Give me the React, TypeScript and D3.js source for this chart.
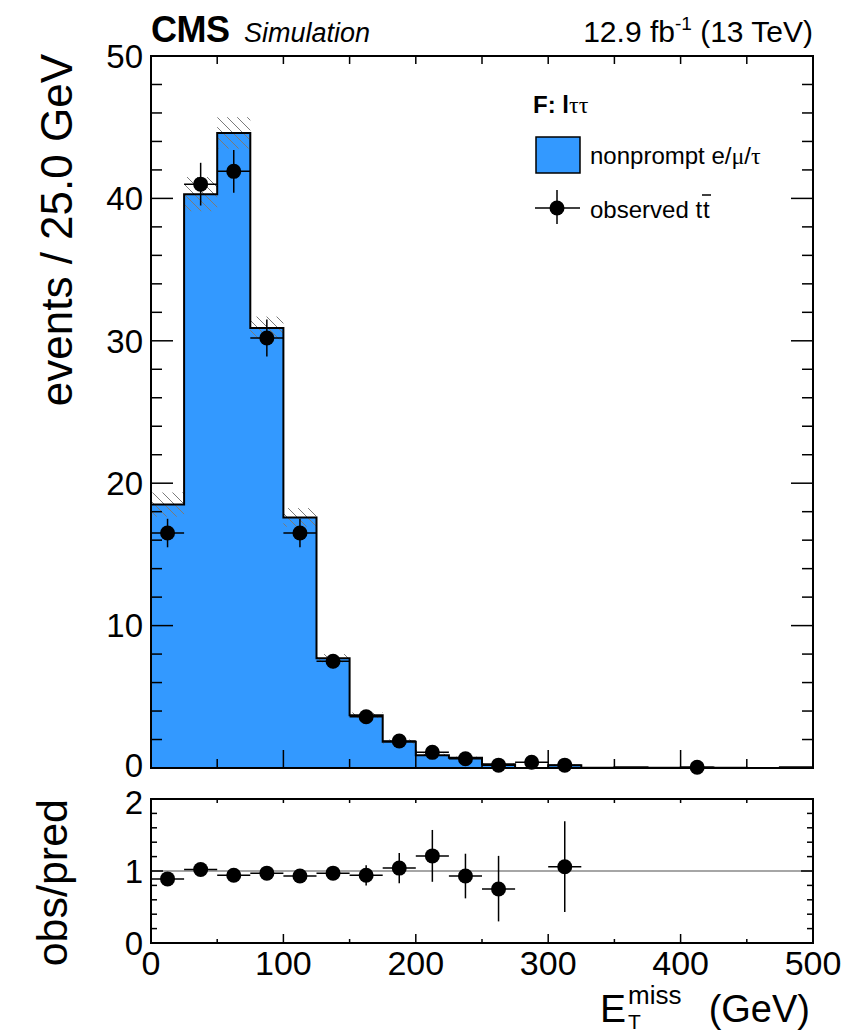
import React from 'react';
import * as d3 from 'd3';

// bin lower edges (GeV), 25 GeV wide
const binLow = [0, 25, 50, 75, 100, 125, 150, 175, 200, 225, 250, 275, 300, 325, 350, 375, 400, 425, 450, 475];
const binWidth = 25;

// nonprompt prediction and its uncertainty
const predicted = [18.5, 40.3, 44.6, 30.9, 17.6, 7.7, 3.7, 1.85, 0.9, 0.72, 0.27, 0.0, 0.19, 0.02, 0.05, 0.02, 0.03, 0.01, 0.0, 0.05];
const predErr = [0.85, 1.2, 1.1, 0.8, 0.65, 0.3, 0.2, 0.15, 0.1, 0.08, 0.05, 0, 0.05, 0, 0, 0, 0, 0, 0, 0];

// observed ttbar
const observed = [16.5, 41.0, 41.9, 30.2, 16.5, 7.5, 3.6, 1.9, 1.1, 0.65, 0.2, 0.4, 0.2, null, null, null, 0.05, null, null, null];
const obsErr = [1.0, 1.5, 1.5, 1.3, 1.0, 0.5, 0.35, 0.3, 0.25, 0.2, 0.15, 0.2, 0.15, 0, 0, 0, 0.05, 0, 0, 0];

// obs/pred
const ratio = [0.89, 1.02, 0.94, 0.97, 0.93, 0.97, 0.94, 1.04, 1.21, 0.93, 0.75, null, 1.06, null, null, null, null, null, null, null];
const ratioErrLo = [0.04, 0.04, 0.05, 0.05, 0.06, 0.07, 0.14, 0.21, 0.36, 0.31, 0.45, 0, 0.63, 0, 0, 0, 0, 0, 0, 0];
const ratioErrHi = [0.04, 0.04, 0.05, 0.05, 0.06, 0.07, 0.14, 0.21, 0.36, 0.31, 0.46, 0, 0.63, 0, 0, 0, 0, 0, 0, 0];

const xTickLabels = ['0', '100', '200', '300', '400', '500'];
const yTickLabels = ['0', '10', '20', '30', '40', '50'];
const rTickLabels = ['0', '1', '2'];

const FONT = 'Liberation Sans, Arial, Helvetica, sans-serif';
const SERIF = 'Liberation Serif, Times New Roman, serif';
const BLUE = '#3399ff';

const App = () => {
  const left = 151, right = 813;
  const top = 56, bottom = 768;
  const rTop = 799, rBottom = 943;

  const x = d3.scaleLinear().domain([0, 500]).range([left, right]);
  const y = d3.scaleLinear().domain([0, 50]).range([bottom, top]);
  const yr = d3.scaleLinear().domain([0, 2]).range([rBottom, rTop]);

  const stepData = binLow.map((b, i) => [b, predicted[i]] as [number, number]);
  stepData.push([500, predicted[predicted.length - 1]]);

  const area = d3.area<[number, number]>()
    .x(d => x(d[0])).y0(y(0)).y1(d => y(d[1]))
    .curve(d3.curveStepAfter);
  const line = d3.line<[number, number]>()
    .x(d => x(d[0])).y(d => y(d[1]))
    .curve(d3.curveStepAfter);

  const vTicks = (xPos: number, scale: any, vals: number[], len: number, dir: number, key: string) =>
    vals.map((v, i) => (
      <line key={key + i} x1={xPos} x2={xPos + dir * len} y1={scale(v)} y2={scale(v)} stroke="#000" strokeWidth={1.5} />
    ));
  const hTicks = (yPos: number, vals: number[], len: number, dir: number, key: string) =>
    vals.map((v, i) => (
      <line key={key + i} x1={x(v)} x2={x(v)} y1={yPos} y2={yPos + dir * len} stroke="#000" strokeWidth={1.5} />
    ));

  const yMajor = d3.range(0, 51, 10);
  const yMinor = d3.range(0, 51, 2).filter(v => v % 10 !== 0);
  const xMajor = d3.range(0, 501, 100);
  const xMinor = d3.range(50, 500, 100);
  const xAll = d3.range(50, 500, 50);
  const rMajor = [0, 1, 2];
  const rMinor = d3.range(0.2, 2, 0.2).filter(v => Math.abs(v - 1) > 0.01);

  return (
    <svg width={864} height={1036} style={{ position: 'absolute', left: 0, top: 0, background: '#fff' }} fontFamily={FONT}>
      <defs>
        <pattern id="hatch" patternUnits="userSpaceOnUse" width={10} height={10}>
          <path d="M0,0 L10,10 M-2,8 L2,12 M8,-2 L12,2" stroke="#7a7a7a" strokeWidth={1} />
        </pattern>
      </defs>

      {/* header */}
      <text x={151} y={42} fontSize={36} fontWeight="bold" letterSpacing={-0.5}>CMS</text>
      <text x={244} y={42} fontSize={27} fontStyle="italic">Simulation</text>
      <text x={813} y={42} fontSize={30} textAnchor="end">
        <tspan>12.9 fb</tspan>
        <tspan dy={-12} fontSize={19}>-1</tspan>
        <tspan dy={12}> (13 TeV)</tspan>
      </text>

      {/* upper panel: histogram */}
      <path d={area(stepData) ?? ''} fill={BLUE} />
      {binLow.map((b, i) => predErr[i] > 0 ? (
        <rect key={'h' + i} x={x(b)} width={x(b + binWidth) - x(b)}
          y={y(predicted[i] + predErr[i])} height={y(Math.max(0, predicted[i] - predErr[i])) - y(predicted[i] + predErr[i])}
          fill="url(#hatch)" />
      ) : null)}
      <path d={line(stepData) ?? ''} fill="none" stroke="#000" strokeWidth={2} />

      {/* observed points */}
      {binLow.map((b, i) => {
        const v = observed[i];
        if (v === null) return null;
        const cx = x(b + binWidth / 2);
        return (
          <g key={'o' + i}>
            <line x1={x(b)} x2={x(b + binWidth)} y1={y(v)} y2={y(v)} stroke="#000" strokeWidth={1.5} />
            <line x1={cx} x2={cx} y1={y(v + obsErr[i])} y2={y(Math.max(0, v - obsErr[i]))} stroke="#000" strokeWidth={1.5} />
            <circle cx={cx} cy={y(v)} r={7.5} fill="#000" />
          </g>
        );
      })}

      {/* upper frame and ticks */}
      <rect x={left} y={top} width={right - left} height={bottom - top} fill="none" stroke="#000" strokeWidth={2} />
      {vTicks(left, y, yMajor, 22, 1, 'yl')}
      {vTicks(left, y, yMinor, 11, 1, 'yln')}
      {vTicks(right, y, yMajor, 22, -1, 'yr')}
      {vTicks(right, y, yMinor, 11, -1, 'yrn')}
      {hTicks(bottom, xMajor, 18, -1, 'xb')}
      {hTicks(bottom, xMinor, 9, -1, 'xbn')}
      {hTicks(top, xAll, 8, 1, 'xt')}
      {yTickLabels.map((t, i) => (
        <text key={'yt' + i} x={143} y={y(yMajor[i]) - (i === 0 ? 3 : 0)} dy="0.36em" fontSize={33} textAnchor="end">{t}</text>
      ))}
      <text transform={`translate(72, 54) rotate(-90)`} fontSize={44} textAnchor="end">events / 25.0 GeV</text>

      {/* legend */}
      <text x={533} y={113} fontSize={24} fontWeight="bold">
        <tspan>F: l</tspan>
        <tspan fontFamily={SERIF} fontWeight="normal">ττ</tspan>
      </text>
      <rect x={536} y={137} width={44} height={36} fill={BLUE} stroke="#000" strokeWidth={1.5} />
      <text x={590} y={164} fontSize={24}>
        <tspan>nonprompt e/</tspan>
        <tspan fontFamily={SERIF}>μ</tspan>
        <tspan>/</tspan>
        <tspan fontFamily={SERIF}>τ</tspan>
      </text>
      <line x1={535} x2={580} y1={208} y2={208} stroke="#000" strokeWidth={1.5} />
      <line x1={557} x2={557} y1={190} y2={224} stroke="#000" strokeWidth={1.5} />
      <circle cx={557} cy={208} r={7.5} fill="#000" />
      <text x={590} y={218} fontSize={24}>observed t</text>
      <text x={703} y={218} fontSize={24}>t</text>
      <line x1={702} x2={711} y1={195} y2={195} stroke="#000" strokeWidth={1.5} />

      {/* ratio panel */}
      <line x1={left} x2={right} y1={yr(1)} y2={yr(1)} stroke="#888" strokeWidth={1.5} />
      {binLow.map((b, i) => {
        const v = ratio[i];
        if (v === null) return null;
        const cx = x(b + binWidth / 2);
        return (
          <g key={'r' + i}>
            <line x1={x(b)} x2={x(b + binWidth)} y1={yr(v)} y2={yr(v)} stroke="#000" strokeWidth={1.5} />
            <line x1={cx} x2={cx} y1={yr(v + ratioErrHi[i])} y2={yr(v - ratioErrLo[i])} stroke="#000" strokeWidth={1.5} />
            <circle cx={cx} cy={yr(v)} r={7.5} fill="#000" />
          </g>
        );
      })}
      <rect x={left} y={rTop} width={right - left} height={rBottom - rTop} fill="none" stroke="#000" strokeWidth={2} />
      {vTicks(left, yr, rMajor, 12, 1, 'rl')}
      {vTicks(left, yr, rMinor, 6, 1, 'rln')}
      {vTicks(right, yr, rMajor, 12, -1, 'rr')}
      {vTicks(right, yr, rMinor, 6, -1, 'rrn')}
      {hTicks(rBottom, xMajor, 9, -1, 'rxb')}
      {hTicks(rBottom, xMinor, 4, -1, 'rxbn')}
      {hTicks(rTop, xAll, 4, 1, 'rxt')}
      {rTickLabels.map((t, i) => (
        <text key={'rt' + i} x={143} y={yr(rMajor[i]) + (i === 2 ? 3 : 0)} dy="0.36em" fontSize={33} textAnchor="end">{t}</text>
      ))}
      {xTickLabels.map((t, i) => (
        <text key={'xt' + i} x={x(xMajor[i])} y={975} fontSize={34} textAnchor="middle">{t}</text>
      ))}
      <text transform={`translate(67, 799) rotate(-90)`} fontSize={43} textAnchor="end">obs/pred</text>

      {/* x title */}
      <text x={600} y={1022} fontSize={39}>E</text>
      <text x={628} y={1004} fontSize={26}>miss</text>
      <text x={628} y={1029} fontSize={21}>T</text>
      <text x={810} y={1022} fontSize={38} textAnchor="end">(GeV)</text>
    </svg>
  );
};

export default App;
